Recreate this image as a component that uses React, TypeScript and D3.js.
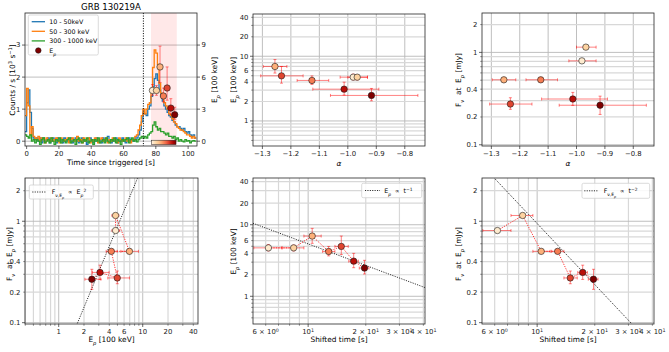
import React from 'react';
import * as d3 from 'd3';

const FONT = "'DejaVu Sans', 'Liberation Sans', sans-serif";
const TICK_FS = 6.9;
const LABEL_FS = 7.4;
const LEGEND_FS = 6.3;
const SPINE = '#262626';
const GRID_MAJOR = '#b8b8b8';
const GRID_MINOR = '#d8d8d8';
const ERR = 'rgba(255,0,0,0.55)';
const SP = '\u00a0';

// light curves: 1 s bins starting at t = -1 s, counts / s in 10^3
const lcStart = -1;
const lcBin = 1;
const lcSoft = [
  0.3, 1.2, 1.6, 0.9, 0.4, 0.1,
  0.05, 0.1, 0.0, 0.1, -0.05, 0.1, 0.0, 0.05, 0.1, -0.05, 0.0, 0.1, 0.05, -0.05, 0.1, 0.0, 0.05, -0.05, 0.1, 0.0,
  0.05, 0.0, 0.1, -0.05, 0.05, 0.1, 0.0, -0.05, 0.05, 0.1, 0.0, 0.05, -0.1, 0.0, 0.1, 0.05, -0.05, 0.0, 0.1, 0.0,
  0.05, -0.05, 0.1, 0.0, 0.05, 0.15, 0.0, -0.05, 0.05, 0.0, 0.1, -0.05, 0.05, 0.0, 0.1, 0.0, -0.05, 0.05, 0.1, 0.0, 0.05,
  0.0, 0.1, 0.1, 0.2, 0.35, 0.6, 0.9, 0.85, 0.8, 1.0, 1.1, 1.4, 1.7, 1.95, 2.1, 1.9, 1.6, 1.4, 1.25, 1.1,
  1.0, 0.9, 0.8, 0.75, 0.65, 0.6, 0.5, 0.45, 0.45, 0.4, 0.35, 0.4, 0.3, 0.25, 0.3, 0.2, 0.15, 0.2, 0.1,
];
const lcMid = [
  0.8, 1.65, 1.1, 0.2, 0.45, 0.15,
  0.1, 0.05, 0.15, 0.0, 0.1, 0.05, -0.05, 0.1, 0.05, 0.0, 0.1, 0.0, 0.05, 0.1, 0.0, -0.05, 0.1, 0.05, 0.0, 0.05,
  0.1, -0.05, 0.05, 0.1, 0.0, 0.05, 0.15, 0.0, 0.05, -0.05, 0.1, 0.0, 0.05, 0.1, -0.05, 0.05, 0.0, 0.1, 0.05, -0.05,
  0.05, 0.1, 0.0, 0.05, 0.1, -0.05, 0.05, 0.0, 0.1, 0.05, 0.0, -0.05, 0.1, 0.05, 0.0, 0.05, 0.1, 0.0, 0.05, -0.05, 0.05,
  0.05, 0.15, 0.2, 0.35, 0.5, 0.8, 1.0, 0.85, 1.0, 1.15, 1.2, 1.6, 2.3, 2.85, 2.75, 2.4, 1.8, 1.5, 1.35, 1.2,
  1.1, 1.0, 0.85, 0.8, 0.7, 0.6, 0.55, 0.45, 0.4, 0.35, 0.35, 0.3, 0.25, 0.2, 0.2, 0.15, 0.1, 0.15, 0.1,
];
const lcHard = [
  0.2, 0.15, 0.1, 0.2, 0.0, 0.05,
  -0.05, 0.05, 0.0, -0.1, 0.05, 0.1, -0.05, 0.0, 0.05, -0.05, 0.1, 0.0, -0.1, 0.05, 0.0, 0.1, -0.05, 0.05, 0.0, -0.05,
  0.05, 0.1, -0.05, 0.0, 0.05, -0.1, 0.05, 0.1, 0.0, -0.05, 0.05, 0.0, 0.1, -0.05, 0.0, 0.05, -0.1, 0.05, 0.0, 0.1,
  -0.05, 0.0, 0.05, -0.05, 0.1, 0.0, -0.05, 0.05, 0.0, 0.1, -0.05, 0.05, 0.0, -0.1, 0.05, 0.0, 0.05, 0.1, -0.05, 0.05, 0.1,
  0.0, 0.05, -0.02, 0.05, 0.1, 0.15, 0.1, 0.15, 0.1, 0.2, 0.25, 0.3, 0.5, 0.6, 0.45, 0.35, 0.4, 0.3, 0.3, 0.25,
  0.2, 0.25, 0.15, 0.15, 0.1, 0.15, 0.05, 0.1, 0.0, 0.05, 0.0, -0.02, 0.05, 0.0, 0.02, -0.05, 0.0, 0.02, 0.0,
];
const lcSeries = [lcSoft, lcMid, lcHard];
const lcNames = ['10 - 50keV', '50 - 300 keV', '300 - 1000 keV'];
const lcColors = ['#1f77b4', '#ff7f0e', '#2ca02c'];

const triggerTime = 72.3;
const pulseWindow = [77, 93];
const cbarRange = [77.3, 92.5];

// time-resolved spectral fits, in time order
const binTime = [77.9, 80.4, 82.6, 84.7, 87.0, 89.3, 91.7];
const shifted = [6.2, 8.4, 10.5, 12.8, 14.9, 17.3, 19.7];
const shiftedLo = [5.2, 7.3, 9.5, 11.9, 13.8, 16.3, 18.5];
const shiftedHi = [7.3, 9.5, 11.7, 13.8, 16.2, 18.3, 20.8];
const alpha = [-0.981, -0.967, -1.256, -1.126, -1.233, -1.013, -0.917];
const alphaLo = [-1.027, -1.0, -1.297, -1.178, -1.306, -1.123, -1.061];
const alphaHi = [-0.931, -0.931, -1.214, -1.067, -1.157, -0.891, -0.754];
const ep = [4.75, 4.75, 6.95, 4.23, 4.98, 3.1, 2.48];
const epLo = [4.3, 4.3, 5.5, 3.67, 3.84, 2.51, 2.05];
const epHi = [5.3, 5.2, 8.9, 4.97, 6.95, 3.98, 3.18];
const fnu = [0.81, 1.14, 0.505, 0.505, 0.276, 0.313, 0.268];
const fnuLo = [0.78, 1.1, 0.48, 0.48, 0.242, 0.267, 0.213];
const fnuHi = [0.84, 1.19, 0.53, 0.53, 0.323, 0.369, 0.336];

// power-law guides
const fnuEpNorm = 0.0354; // F ~ Ep^2
const epTimeNorm = 54; // Ep ~ t^-1
const fnuTimeNorm = 95; // F ~ t^-2

// ticks
const timeTicks = [0, 20, 40, 60, 80, 100];
const countTicks = [0, 1, 2, 3];
const epRightTicks = [0, 3, 6, 9];
const alphaTicks = [-1.3, -1.2, -1.1, -1.0, -0.9, -0.8];
const epTicks = [1, 2, 4, 6, 10, 20, 40];
const fnuTicks = [0.1, 0.2, 0.4, 1, 2];
const shiftTicks = [6, 10, 20, 30, 40];

type Box = { l: number; r: number; t: number; b: number };
const boxLC: Box = { l: 25, r: 197, t: 13, b: 146 };
const boxAE: Box = { l: 253, r: 425, t: 14, b: 146 };
const boxAF: Box = { l: 482, r: 654, t: 13, b: 146 };
const boxEF: Box = { l: 25, r: 198, t: 178, b: 324 };
const boxTE: Box = { l: 253, r: 425, t: 178, b: 324 };
const boxTF: Box = { l: 482, r: 654, t: 178, b: 324 };

const pointColor = (i: number) => d3.interpolateOrRd(0.1 + 0.15 * i);
const isDecade = (v: number) => Math.abs(Math.log10(v) - Math.round(Math.log10(v))) < 1e-9;
const minusFmt = (v: number) => v.toFixed(1).replace('-', '\u2212');

const Sub = ({ children, italic }: any) => (
  <tspan baselineShift="sub" fontSize="70%" fontStyle={italic ? 'italic' : undefined}>{children}</tspan>
);
const Sup = ({ children }: any) => (
  <tspan baselineShift="super" fontSize="70%">{children}</tspan>
);
const EpLabel = () => (<>E<Sub italic>p</Sub></>);
const FnuLabel = () => (<>F<Sub>ν</Sub>{`${SP}${SP}at${SP}${SP}`}E<Sub italic>p</Sub>{' [mJy]'}</>);
const FnuEpSym = () => (
  <>F<tspan baselineShift="sub" fontSize="70%">ν,E<tspan baselineShift="sub" fontSize="75%" fontStyle="italic">p</tspan></tspan></>
);

type Axis = {
  scale: any;
  grid: number[];
  major: number[];
  minor: number[];
  labels: { v: number; node: React.ReactNode }[];
};

function logAxis(scale: any, labelled: number[], fmt: (v: number) => React.ReactNode): Axis {
  const all: number[] = scale.ticks();
  return {
    scale,
    grid: all,
    major: all.filter(isDecade),
    minor: all.filter((v) => !isDecade(v)),
    labels: labelled.map((v) => ({ v, node: fmt(v) })),
  };
}

function linAxis(scale: any, ticks: number[], fmt: (v: number) => React.ReactNode, grid = true): Axis {
  return {
    scale,
    grid: grid ? ticks : [],
    major: ticks,
    minor: [],
    labels: ticks.map((v) => ({ v, node: fmt(v) })),
  };
}

function Panel({ id, box, x, y, children, xLabelDy = 10.3 }: { id: string; box: Box; x: Axis; y: Axis; children?: React.ReactNode; xLabelDy?: number }) {
  const { l, r, t, b } = box;
  return (
    <g>
      <defs>
        <clipPath id={id}>
          <rect x={l} y={t} width={r - l} height={b - t} />
        </clipPath>
      </defs>
      {x.grid.map((v) => {
        const maj = x.major.includes(v);
        return <line key={`gx${v}`} x1={x.scale(v)} x2={x.scale(v)} y1={t} y2={b}
          stroke={maj ? GRID_MAJOR : GRID_MINOR} strokeWidth={maj ? 0.9 : 1.2} />;
      })}
      {y.grid.map((v) => {
        const maj = y.major.includes(v);
        return <line key={`gy${v}`} x1={l} x2={r} y1={y.scale(v)} y2={y.scale(v)}
          stroke={maj ? GRID_MAJOR : GRID_MINOR} strokeWidth={maj ? 0.9 : 1.2} />;
      })}
      <g clipPath={`url(#${id})`}>{children}</g>
      <rect x={l} y={t} width={r - l} height={b - t} fill="none" stroke={SPINE} strokeWidth={0.8} />
      {x.major.map((v) => <line key={`tx${v}`} x1={x.scale(v)} x2={x.scale(v)} y1={b} y2={b + 3} stroke={SPINE} strokeWidth={0.7} />)}
      {x.minor.map((v) => <line key={`mx${v}`} x1={x.scale(v)} x2={x.scale(v)} y1={b} y2={b + 1.8} stroke={SPINE} strokeWidth={0.5} />)}
      {y.major.map((v) => <line key={`ty${v}`} x1={l - 3} x2={l} y1={y.scale(v)} y2={y.scale(v)} stroke={SPINE} strokeWidth={0.7} />)}
      {y.minor.map((v) => <line key={`my${v}`} x1={l - 1.8} x2={l} y1={y.scale(v)} y2={y.scale(v)} stroke={SPINE} strokeWidth={0.5} />)}
      <g fontSize={TICK_FS} fill="#222">
        {x.labels.map(({ v, node }) => (
          <text key={`lx${v}`} x={x.scale(v)} y={b + xLabelDy} textAnchor="middle">{node}</text>
        ))}
        {y.labels.map(({ v, node }) => (
          <text key={`ly${v}`} x={l - 4.5} y={y.scale(v)} dy="0.35em" textAnchor="end">{node}</text>
        ))}
      </g>
    </g>
  );
}

function Markers({ sx, sy, xs, ys, xlo, xhi, ylo, yhi, connect }: any) {
  const pts: [number, number][] = xs.map((v: number, i: number) => [sx(v), sy(ys[i])]);
  const cap = 1.5;
  return (
    <g>
      {pts.map(([px, py], i) => (
        <g key={`e${i}`} stroke={ERR} strokeWidth={0.9}>
          {xlo && (
            <>
              <line x1={sx(xlo[i])} x2={sx(xhi[i])} y1={py} y2={py} />
              <line x1={sx(xlo[i])} x2={sx(xlo[i])} y1={py - cap} y2={py + cap} />
              <line x1={sx(xhi[i])} x2={sx(xhi[i])} y1={py - cap} y2={py + cap} />
            </>
          )}
          {ylo && (
            <>
              <line x1={px} x2={px} y1={sy(ylo[i])} y2={sy(yhi[i])} />
              <line x1={px - cap} x2={px + cap} y1={sy(ylo[i])} y2={sy(ylo[i])} />
              <line x1={px - cap} x2={px + cap} y1={sy(yhi[i])} y2={sy(yhi[i])} />
            </>
          )}
        </g>
      ))}
      {connect && (
        <path d={d3.line()(pts) || ''} fill="none" stroke="#ff1a1a" strokeWidth={0.9} strokeDasharray="1.2,1.3" />
      )}
      {pts.map(([px, py], i) => (
        <circle key={`p${i}`} cx={px} cy={py} r={3.2} fill={pointColor(i)} stroke="#1a1a1a" strokeWidth={0.6} />
      ))}
    </g>
  );
}

function LegendBox({ x, y, w, h, children }: any) {
  return (
    <g>
      <rect x={x} y={y} width={w} height={h} rx={1.5} fill="white" fillOpacity={0.85} stroke="#cccccc" strokeWidth={0.7} />
      {children}
    </g>
  );
}

function YLabel({ x, y, children }: any) {
  return (
    <text transform={`translate(${x},${y}) rotate(-90)`} textAnchor="middle" fontSize={LABEL_FS}>{children}</text>
  );
}

function GuideLine({ sx, sy, f, domain }: any) {
  const pts: [number, number][] = domain.map((v: number) => [sx(v), sy(f(v))]);
  return <path d={d3.line()(pts) || ''} fill="none" stroke="#111" strokeWidth={0.9} strokeDasharray="1.1,1.3" />;
}

export default function App() {
  // light curve panel
  const sxLC = d3.scaleLinear().domain([-1, 105.5]).range([boxLC.l, boxLC.r]);
  const syLC = d3.scaleLinear().domain([-0.15, 4.0]).range([boxLC.b, boxLC.t]);
  const syEpR = d3.scaleLinear().domain([-0.45, 12.0]).range([boxLC.b, boxLC.t]);
  const lcLine = d3.line<[number, number]>().x((d) => sxLC(d[0])).y((d) => syLC(d[1])).curve(d3.curveStepAfter);
  const lcPaths = lcSeries.map((s) => {
    const pts: [number, number][] = s.map((v, i) => [lcStart + i * lcBin, v]);
    pts.push([lcStart + s.length * lcBin, s[s.length - 1]]);
    return lcLine(pts) || '';
  });

  const sxA = d3.scaleLinear().domain([-1.333, -0.729]).range([boxAE.l, boxAE.r]);
  const syEpA = d3.scaleLog().domain([0.41, 45]).range([boxAE.b, boxAE.t]);
  const sxA2 = d3.scaleLinear().domain([-1.333, -0.727]).range([boxAF.l, boxAF.r]);
  const syFA = d3.scaleLog().domain([0.097, 2.67]).range([boxAF.b, boxAF.t]);

  const sxEF = d3.scaleLog().domain([0.397, 45.5]).range([boxEF.l, boxEF.r]);
  const syEF = d3.scaleLog().domain([0.097, 2.67]).range([boxEF.b, boxEF.t]);
  const sxTE = d3.scaleLog().domain([5.15, 40.8]).range([boxTE.l, boxTE.r]);
  const syTE = d3.scaleLog().domain([0.41, 45]).range([boxTE.b, boxTE.t]);
  const sxTF = d3.scaleLog().domain([5.15, 40.8]).range([boxTF.l, boxTF.r]);
  const syTF = d3.scaleLog().domain([0.097, 2.67]).range([boxTF.b, boxTF.t]);

  const numFmt = (v: number) => String(v);
  const shiftFmt = (v: number) => (v === 10 ? (
    <>10<Sup>1</Sup></>
  ) : v < 10 ? (
    <>{v} × 10<Sup>0</Sup></>
  ) : (
    <>{v / 10} × 10<Sup>1</Sup></>
  ));

  const lcX = linAxis(sxLC, timeTicks, numFmt, false);
  const lcY = linAxis(syLC, countTicks, numFmt, true);

  const cbarStops = d3.range(0, 1.0001, 0.1);
  const propto = `${SP}${SP}∝${SP}${SP}`;

  return (
    <svg width={669} height={352} style={{ position: 'absolute', left: 0, top: 0, background: 'white' }}
      fontFamily={FONT}>
      <defs>
        <linearGradient id="cbar" x1="0" x2="1" y1="0" y2="0">
          {cbarStops.map((s) => (
            <stop key={s} offset={s} stopColor={d3.interpolateOrRd(0.05 + 0.95 * s)} />
          ))}
        </linearGradient>
      </defs>

      {/* light curve */}
      <Panel id="cLC" box={boxLC} x={lcX} y={lcY}>
        <rect x={sxLC(pulseWindow[0])} width={sxLC(pulseWindow[1]) - sxLC(pulseWindow[0])}
          y={boxLC.t} height={boxLC.b - boxLC.t} fill="#ff0000" fillOpacity={0.09} />
        {lcPaths.map((d, i) => (
          <path key={i} d={d} fill="none" stroke={lcColors[i]} strokeWidth={1.3} />
        ))}
        <line x1={sxLC(triggerTime)} x2={sxLC(triggerTime)} y1={boxLC.t} y2={boxLC.b}
          stroke="#111" strokeWidth={1} strokeDasharray="1.1,1.4" />
        <Markers sx={sxLC} sy={syEpR} xs={binTime} ys={ep} ylo={epLo} yhi={epHi} />
        <rect x={sxLC(cbarRange[0])} width={sxLC(cbarRange[1]) - sxLC(cbarRange[0])}
          y={boxLC.b - 5.8} height={4.4} fill="url(#cbar)" stroke="#222" strokeWidth={0.5} />
      </Panel>
      {epRightTicks.map((v) => (
        <g key={`r${v}`}>
          <line x1={boxLC.r} x2={boxLC.r + 3} y1={syEpR(v)} y2={syEpR(v)} stroke={SPINE} strokeWidth={0.7} />
          <text x={boxLC.r + 4.5} y={syEpR(v)} dy="0.35em" fontSize={TICK_FS} fill="#222">{v}</text>
        </g>
      ))}
      <text x={111} y={10} textAnchor="middle" fontSize={8.6}>GRB 130219A</text>
      <text x={111} y={164.5} textAnchor="middle" fontSize={LABEL_FS}>Time since triggered [s]</text>
      <YLabel x={15.3} y={80}>Counts / s [10<Sup>3</Sup> s<Sup>−1</Sup>]</YLabel>
      <YLabel x={216.5} y={80}><EpLabel /> [100 keV]</YLabel>
      <LegendBox x={28.3} y={15} w={70} h={40}>
        {lcNames.map((n, i) => (
          <g key={n}>
            <line x1={31.7} x2={45} y1={21.7 + i * 9.6} y2={21.7 + i * 9.6} stroke={lcColors[i]} strokeWidth={1.3} />
            <text x={49.3} y={21.7 + i * 9.6} dy="0.35em" fontSize={LEGEND_FS}>{n}</text>
          </g>
        ))}
        <circle cx={38.3} cy={50.5} r={2.8} fill={d3.interpolateOrRd(1)} stroke="#111" strokeWidth={0.5} />
        <text x={49.3} y={50.5} dy="0.35em" fontSize={LEGEND_FS}><EpLabel /></text>
      </LegendBox>

      {/* alpha vs Ep */}
      <Panel id="cAE" box={boxAE} x={linAxis(sxA, alphaTicks, minusFmt)} y={logAxis(syEpA, epTicks, numFmt)}>
        <Markers sx={sxA} sy={syEpA} xs={alpha} ys={ep} xlo={alphaLo} xhi={alphaHi} ylo={epLo} yhi={epHi} />
      </Panel>
      <YLabel x={235.5} y={80}><EpLabel /> [100 keV]</YLabel>
      <text x={339} y={166} textAnchor="middle" fontSize={LABEL_FS} fontStyle="italic">α</text>

      {/* alpha vs F_nu */}
      <Panel id="cAF" box={boxAF} x={linAxis(sxA2, alphaTicks, minusFmt)} y={logAxis(syFA, fnuTicks, numFmt)}>
        <Markers sx={sxA2} sy={syFA} xs={alpha} ys={fnu} xlo={alphaLo} xhi={alphaHi} ylo={fnuLo} yhi={fnuHi} />
      </Panel>
      <YLabel x={461} y={80}><FnuLabel /></YLabel>
      <text x={568} y={166} textAnchor="middle" fontSize={LABEL_FS} fontStyle="italic">α</text>

      {/* Ep vs F_nu */}
      <Panel id="cEF" box={boxEF} x={logAxis(sxEF, epTicks, numFmt)} y={logAxis(syEF, fnuTicks, numFmt)} xLabelDy={9.5}>
        <GuideLine sx={sxEF} sy={syEF} f={(v: number) => fnuEpNorm * v * v} domain={sxEF.domain()} />
        <Markers sx={sxEF} sy={syEF} xs={ep} ys={fnu} xlo={epLo} xhi={epHi} ylo={fnuLo} yhi={fnuHi} connect />
      </Panel>
      <YLabel x={11.7} y={254}><FnuLabel /></YLabel>
      <text x={111.5} y={341.5} textAnchor="middle" fontSize={LABEL_FS}><EpLabel /> [100 keV]</text>
      <LegendBox x={29.3} y={185} w={64} h={14}>
        <line x1={32.3} x2={46.7} y1={192} y2={192} stroke="#111" strokeWidth={0.9} strokeDasharray="1.1,1.3" />
        <text x={51.7} y={192} dy="0.35em" fontSize={LEGEND_FS}>
          <FnuEpSym />{propto}E<Sub italic>p</Sub><Sup>2</Sup>
        </text>
      </LegendBox>

      {/* shifted time vs Ep */}
      <Panel id="cTE" box={boxTE} x={logAxis(sxTE, shiftTicks, shiftFmt)} y={logAxis(syTE, epTicks, numFmt)} xLabelDy={9.5}>
        <GuideLine sx={sxTE} sy={syTE} f={(v: number) => epTimeNorm / v} domain={sxTE.domain()} />
        <Markers sx={sxTE} sy={syTE} xs={shifted} ys={ep} xlo={shiftedLo} xhi={shiftedHi} ylo={epLo} yhi={epHi} connect />
      </Panel>
      <YLabel x={235.5} y={251.5}><EpLabel /> [100 keV]</YLabel>
      <text x={339} y={342} textAnchor="middle" fontSize={LABEL_FS}>Shifted time [s]</text>
      <LegendBox x={361.7} y={183.3} w={60} h={14.4}>
        <line x1={365} x2={380} y1={190.5} y2={190.5} stroke="#111" strokeWidth={0.9} strokeDasharray="1.1,1.3" />
        <text x={384.3} y={190.5} dy="0.35em" fontSize={LEGEND_FS}>
          E<Sub italic>p</Sub>{propto}t<Sup>−1</Sup>
        </text>
      </LegendBox>

      {/* shifted time vs F_nu */}
      <Panel id="cTF" box={boxTF} x={logAxis(sxTF, shiftTicks, shiftFmt)} y={logAxis(syTF, fnuTicks, numFmt)} xLabelDy={9.5}>
        <GuideLine sx={sxTF} sy={syTF} f={(v: number) => fnuTimeNorm / (v * v)} domain={sxTF.domain()} />
        <Markers sx={sxTF} sy={syTF} xs={shifted} ys={fnu} xlo={shiftedLo} xhi={shiftedHi} ylo={fnuLo} yhi={fnuHi} connect />
      </Panel>
      <YLabel x={461} y={254}><FnuLabel /></YLabel>
      <text x={568} y={342} textAnchor="middle" fontSize={LABEL_FS}>Shifted time [s]</text>
      <LegendBox x={582} y={183.3} w={67.7} h={15}>
        <line x1={584.3} x2={598.7} y1={190.8} y2={190.8} stroke="#111" strokeWidth={0.9} strokeDasharray="1.1,1.3" />
        <text x={603.7} y={190.8} dy="0.35em" fontSize={LEGEND_FS}>
          <FnuEpSym />{propto}t<Sup>−2</Sup>
        </text>
      </LegendBox>
    </svg>
  );
}
